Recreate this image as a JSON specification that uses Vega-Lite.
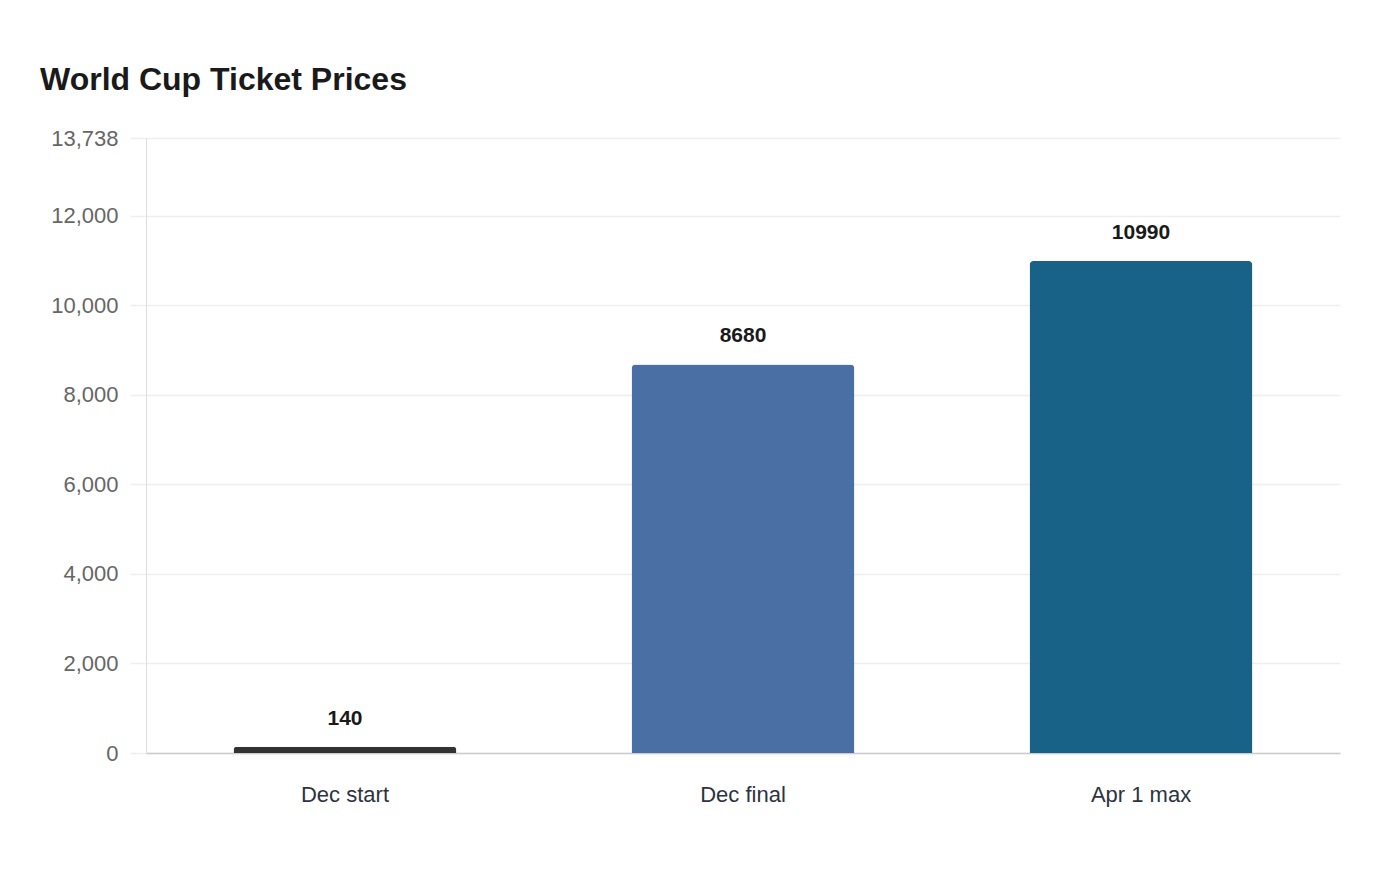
{
  "$schema": "https://vega.github.io/schema/vega-lite/v6.json",
  "autosize": "none",
  "width": 1194,
  "height": 615,
  "padding": {"left": 146, "top": 138, "right": 60, "bottom": 127},
  "background": "white",
  "title": {
    "text": "World Cup Ticket Prices",
    "anchor": "start",
    "frame": "group",
    "font": "Liberation Sans",
    "fontSize": 32,
    "fontWeight": "bold",
    "color": "#1a1a1a",
    "dx": -106,
    "offset": 30
  },
  "data": {
    "values": [
      {"label": "Dec start", "price": 140, "color": "#333333"},
      {"label": "Dec final", "price": 8680, "color": "#4a6fa5"},
      {"label": "Apr 1 max", "price": 10990, "color": "#186187"}
    ]
  },
  "config": {
    "view": {"stroke": null},
    "font": "Liberation Sans"
  },
  "encoding": {
    "x": {
      "field": "label",
      "type": "nominal",
      "sort": null,
      "scale": {"paddingInner": 0.44, "paddingOuter": 0.22},
      "axis": {
        "title": null,
        "labelAngle": 0,
        "labelFontSize": 22,
        "labelColor": "#2d3340",
        "labelPadding": 31,
        "ticks": false,
        "domainColor": "#cccccc",
        "domainWidth": 1.5,
        "grid": false
      }
    },
    "y": {
      "field": "price",
      "type": "quantitative",
      "scale": {"domain": [0, 13738], "nice": false},
      "axis": {
        "title": null,
        "values": [0, 2000, 4000, 6000, 8000, 10000, 12000, 13738],
        "format": ",d",
        "labelFontSize": 22,
        "labelColor": "#666666",
        "labelPadding": 12,
        "tickSize": 16,
        "tickColor": "#eeeeee",
        "tickWidth": 1.5,
        "gridColor": "#eeeeee",
        "gridWidth": 1.5,
        "domainColor": "#dddddd",
        "domainWidth": 1
      }
    }
  },
  "layer": [
    {
      "mark": {"type": "bar", "cornerRadiusTopLeft": 4, "cornerRadiusTopRight": 4},
      "encoding": {
        "color": {"field": "color", "type": "nominal", "scale": null}
      }
    },
    {
      "mark": {
        "type": "text",
        "baseline": "middle",
        "dy": -28,
        "fontSize": 21,
        "fontWeight": "bold",
        "color": "#1a1a1a"
      },
      "encoding": {
        "text": {"field": "price", "type": "quantitative", "format": "d"}
      }
    }
  ]
}
